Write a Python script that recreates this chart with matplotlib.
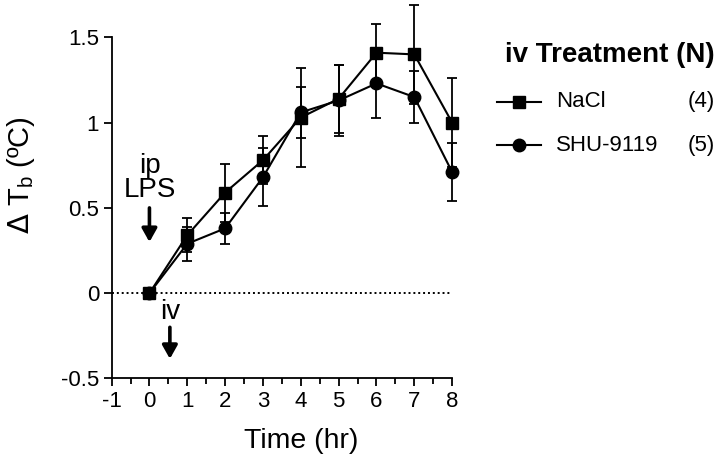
import matplotlib
matplotlib.use("Agg")
import matplotlib.pyplot as plt
from matplotlib.lines import Line2D

plt.rcParams['font.family'] = ['Liberation Sans', 'DejaVu Sans']

time_hr = [0, 1, 2, 3, 4, 5, 6, 7, 8]
nacl_mean = [0.0, 0.34, 0.59, 0.78, 1.03, 1.14, 1.41, 1.40, 1.00]
nacl_err = [0.0, 0.10, 0.17, 0.14, 0.29, 0.20, 0.17, 0.29, 0.26]
shu_mean = [0.0, 0.29, 0.38, 0.68, 1.06, 1.13, 1.23, 1.15, 0.71]
shu_err = [0.0, 0.10, 0.09, 0.17, 0.15, 0.21, 0.20, 0.15, 0.17]
series_names = ["NaCl", "SHU-9119"]
series_n = ["(4)", "(5)"]
xticks = [-1, 0, 1, 2, 3, 4, 5, 6, 7, 8]
xtick_labels = ["-1", "0", "1", "2", "3", "4", "5", "6", "7", "8"]
yticks = [-0.5, 0, 0.5, 1, 1.5]
ytick_labels = ["-0.5", "0", "0.5", "1", "1.5"]

fig = plt.figure(figsize=(7.2, 4.61), dpi=100)
ax = fig.add_axes([0.155, 0.179, 0.473, 0.740])

ax.axhline(0, color='black', linestyle=(0, (1, 1.5)), linewidth=1.4, zorder=1)

ax.errorbar(time_hr, nacl_mean, yerr=nacl_err, color='black', marker='s',
            markersize=9, linewidth=1.5, elinewidth=1.3, capsize=3.5, capthick=1.3,
            clip_on=False, zorder=3)
ax.errorbar(time_hr, shu_mean, yerr=shu_err, color='black', marker='o',
            markersize=9, linewidth=1.5, elinewidth=1.3, capsize=3.5, capthick=1.3,
            clip_on=False, zorder=3)

ax.set_xlim(-1, 8)
ax.set_ylim(-0.5, 1.5)
ax.set_xticks(xticks)
ax.set_xticklabels(xtick_labels)
ax.set_xticks([x + 0.5 for x in xticks[:-1]], minor=True)
ax.set_yticks(yticks)
ax.set_yticklabels(ytick_labels)
ax.tick_params(axis='both', which='major', direction='out', length=6, width=1.3,
               labelsize=16, pad=3)
ax.tick_params(axis='x', which='minor', direction='out', length=4, width=1.3)
for s in ['top', 'right']:
    ax.spines[s].set_visible(False)
for s in ['left', 'bottom']:
    ax.spines[s].set_linewidth(1.3)

ax.set_xlabel("Time (hr)", fontsize=20.5)
ax.xaxis.set_label_coords(0.557, -0.145)
fig.text(0.029, 0.62, r"$\Delta$ T$_\mathregular{b}$ (ºC)", rotation=90,
         fontsize=21, ha='center', va='center')

# annotations
ax.text(0, 0.675, "ip\nLPS", ha='center', va='center', fontsize=20, linespacing=0.9)
ax.annotate("", xy=(0, 0.30), xytext=(0, 0.50),
            arrowprops=dict(arrowstyle='-|>,head_width=0.45,head_length=0.8',
                            color='black', lw=2.6, shrinkA=0, shrinkB=0))
ax.text(0.54, -0.11, "iv", ha='center', va='center', fontsize=20)
ax.annotate("", xy=(0.54, -0.385), xytext=(0.54, -0.2),
            arrowprops=dict(arrowstyle='-|>,head_width=0.45,head_length=0.8',
                            color='black', lw=2.6, shrinkA=0, shrinkB=0))

# legend
fig.text(0.993, 0.88, "iv Treatment (N)", fontsize=20, fontweight='bold',
         ha='right', va='center')
markers = ['s', 'o']
ys = [0.779, 0.685]
for name, n, m, yy in zip(series_names, series_n, markers, ys):
    fig.add_artist(Line2D([0.690, 0.752], [yy, yy], color='black', lw=1.5,
                          transform=fig.transFigure))
    fig.add_artist(Line2D([0.721], [yy], color='black', marker=m, markersize=9,
                          transform=fig.transFigure))
    fig.text(0.772, yy, name, fontsize=16, ha='left', va='center')
    fig.text(0.993, yy, n, fontsize=16, ha='right', va='center')

fig.savefig("out.png", dpi=100)
